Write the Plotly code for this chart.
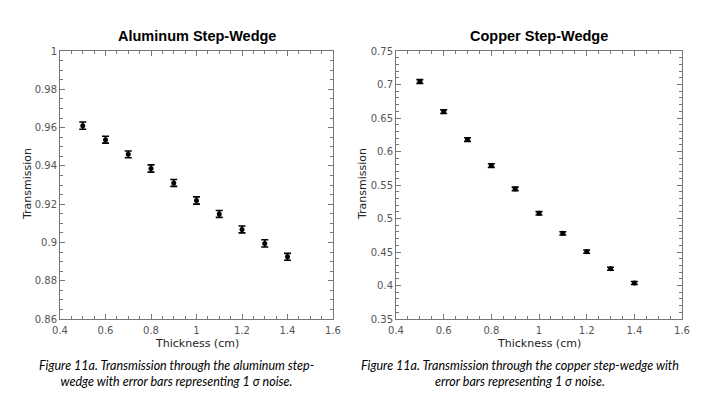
import plotly.graph_objects as go

thickness = [0.5, 0.6, 0.7, 0.8, 0.9, 1.0, 1.1, 1.2, 1.3, 1.4]
al_trans = [0.9610, 0.9537, 0.9460, 0.9386, 0.9311, 0.9219, 0.9149, 0.9068, 0.8995, 0.8925]
al_err = [0.0019, 0.0018, 0.0018, 0.0019, 0.0018, 0.0019, 0.0018, 0.0018, 0.0019, 0.0018]
cu_trans = [0.7045, 0.6595, 0.6178, 0.5790, 0.5442, 0.5077, 0.4778, 0.4505, 0.4250, 0.4037]
cu_err = [0.0028, 0.0027, 0.0027, 0.0027, 0.0026, 0.0025, 0.0025, 0.0024, 0.0023, 0.0023]

titles = ["Aluminum Step-Wedge", "Copper Step-Wedge"]
x_title = "Thickness (cm)"
y_title = "Transmission"
captions = [
    "Figure 11a. Transmission through the aluminum step-<br>wedge with error bars representing 1 σ noise.",
    "Figure 11a. Transmission through the copper step-wedge with<br>error bars representing 1 σ noise.",
]

OFF = 8  # default page body margin
W, H = 720 - OFF, 397 - OFF
fig = go.Figure()

def px_x(p):
    return (p - OFF) / W

def px_y(p):
    return 1 - (p - OFF) / H

fig.add_trace(go.Scatter(
    x=thickness, y=al_trans, mode="markers",
    marker=dict(color="black", size=5, symbol="circle"),
    error_y=dict(type="data", array=al_err, visible=True, color="black", thickness=1.6, width=3.5),
    xaxis="x", yaxis="y", showlegend=False))
fig.add_trace(go.Scatter(
    x=thickness, y=cu_trans, mode="markers",
    marker=dict(color="black", size=5, symbol="circle"),
    error_y=dict(type="data", array=cu_err, visible=True, color="black", thickness=1.6, width=3.5),
    xaxis="x2", yaxis="y2", showlegend=False))

titlefont = dict(family="DejaVu Sans", size=11, color="#222222")
common = dict(ticks="inside", mirror="ticks", showline=True, linecolor="#777777", linewidth=1,
              tickcolor="#777777", ticklen=5, tickwidth=1, showgrid=False, zeroline=False,
              automargin=False,
              tickfont=dict(family="DejaVu Sans", size=10, color="#555555"))

ydom = [px_y(319), px_y(51)]
fig.update_layout(
    width=W, height=H, margin=dict(l=0, r=0, t=0, b=0),
    paper_bgcolor="white", plot_bgcolor="white",
    xaxis=dict(domain=[px_x(60), px_x(333)], range=[0.4, 1.6], dtick=0.2, tick0=0.4,
               minor=dict(dtick=0.05, ticks="inside", ticklen=3, tickcolor="#777777"),
               ticklabelstandoff=2, anchor="y", **common),
    yaxis=dict(domain=ydom, range=[0.86, 1.0], dtick=0.02, tick0=0.86,
               minor=dict(dtick=0.005, ticks="inside", ticklen=3, tickcolor="#777777"),
               anchor="x", **common),
    xaxis2=dict(domain=[px_x(396), px_x(682)], range=[0.4, 1.6], dtick=0.2, tick0=0.4,
                minor=dict(dtick=0.05, ticks="inside", ticklen=3, tickcolor="#777777"),
                ticklabelstandoff=2, anchor="y2", **common),
    yaxis2=dict(domain=ydom, range=[0.35, 0.75], dtick=0.05, tick0=0.35,
                minor=dict(dtick=0.01, ticks="inside", ticklen=3, tickcolor="#777777"),
                anchor="x2", **common),
)

centers = [(60 + 333) / 2, (396 + 682) / 2]
for c, t in zip(centers, titles):
    fig.add_annotation(x=px_x(c), y=px_y(36), xref="paper", yref="paper", text="<b>" + t + "</b>",
                       showarrow=False, font=dict(family="Liberation Sans", size=14.5, color="black"),
                       xanchor="center", yanchor="middle")
    fig.add_annotation(x=px_x(c), y=px_y(343), xref="paper", yref="paper", text=x_title,
                       showarrow=False, font=titlefont, xanchor="center", yanchor="middle")

for xc in [27, 362]:
    fig.add_annotation(x=px_x(xc), y=px_y(184), xref="paper", yref="paper", text=y_title,
                       showarrow=False, font=titlefont, textangle=-90,
                       xanchor="center", yanchor="middle")

cap_centers = [176, 520]
for c, t in zip(cap_centers, captions):
    fig.add_annotation(x=px_x(c), y=px_y(373), xref="paper", yref="paper", text="<i>" + t + "</i>",
                       showarrow=False, font=dict(family="Lato", size=12.5, color="black"),
                       xanchor="center", yanchor="middle", align="center")

fig.write_html("out.html")
